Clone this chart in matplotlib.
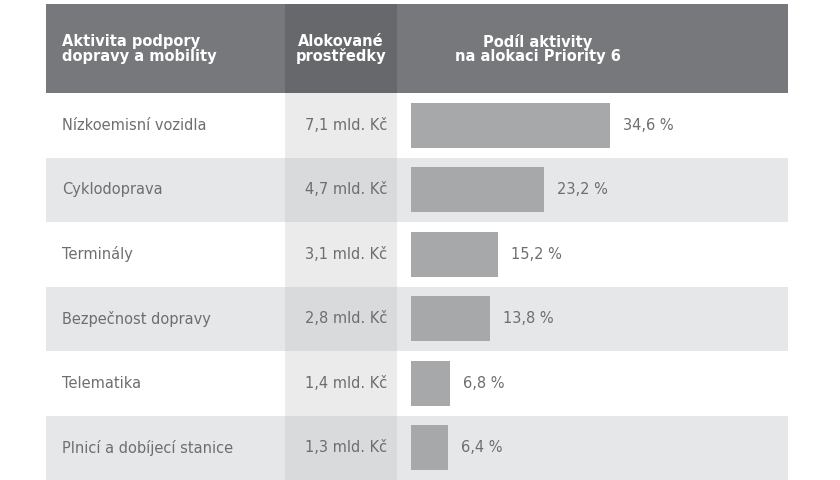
import matplotlib
matplotlib.use("Agg")
import matplotlib.pyplot as plt
import matplotlib.patches as patches

activities = ["Nízkoemisní vozidla", "Cyklodoprava", "Terminály",
              "Bezpečnost dopravy", "Telematika", "Plnicí a dobíjecí stanice"]
allocations = ["7,1 mld. Kč", "4,7 mld. Kč", "3,1 mld. Kč",
               "2,8 mld. Kč", "1,4 mld. Kč", "1,3 mld. Kč"]
shares = [34.6, 23.2, 15.2, 13.8, 6.8, 6.4]
headers = ["Aktivita podpory\ndopravy a mobility", "Alokované\nprostředky",
           "Podíl aktivity\nna alokaci Priority 6"]

TEXT = "#6d6e71"
fig = plt.figure(figsize=(8.4, 4.8), dpi=100)
ax = fig.add_axes([0, 0, 1, 1])
ax.set_xlim(0, 840)
ax.set_ylim(480, 0)
ax.axis("off")

# table frame (pixel coordinates)
x0, x1 = 46, 788
mid0, mid1 = 285, 397
head0, head1 = 4, 93
row_h = 64.5
bar_x0, px_per_pct = 411, 5.75

# header
ax.add_patch(patches.Rectangle((x0, head0), x1 - x0, head1 - head0, color="#77787b", lw=0))
ax.add_patch(patches.Rectangle((mid0, head0), mid1 - mid0, head1 - head0, color="#67686b", lw=0))
hfont = dict(color="white", fontsize=10.5, fontweight="bold", family="DejaVu Sans",
             linespacing=0.95, va="center")
ax.text(62, 49, headers[0], ha="left", **hfont)
ax.text((mid0 + mid1) / 2, 49, headers[1], ha="center", **hfont)
ax.text(538, 49, headers[2], ha="center", **hfont)

# rows
for i, (name, alloc, share) in enumerate(zip(activities, allocations, shares)):
    y = head1 + i * row_h
    yc = y + row_h / 2
    shaded = i % 2 == 1
    if shaded:
        ax.add_patch(patches.Rectangle((x0, y), x1 - x0, row_h, color="#e6e7e8", lw=0))
    ax.add_patch(patches.Rectangle((mid0, y), mid1 - mid0, row_h,
                                   color="#d9dadb" if shaded else "#ebebec", lw=0))
    ax.text(62, yc, name, ha="left", va="center", color=TEXT, fontsize=10.5)
    ax.text(mid1 - 10, yc, alloc, ha="right", va="center", color=TEXT, fontsize=10.5)
    ax.barh(yc, share * px_per_pct, left=bar_x0, height=45, color="#a7a8aa", lw=0)
    ax.text(bar_x0 + share * px_per_pct + 13, yc, f"{share:.1f} %".replace(".", ","),
            ha="left", va="center", color=TEXT, fontsize=10.5)

fig.savefig("out.png", dpi=100, facecolor="white")
